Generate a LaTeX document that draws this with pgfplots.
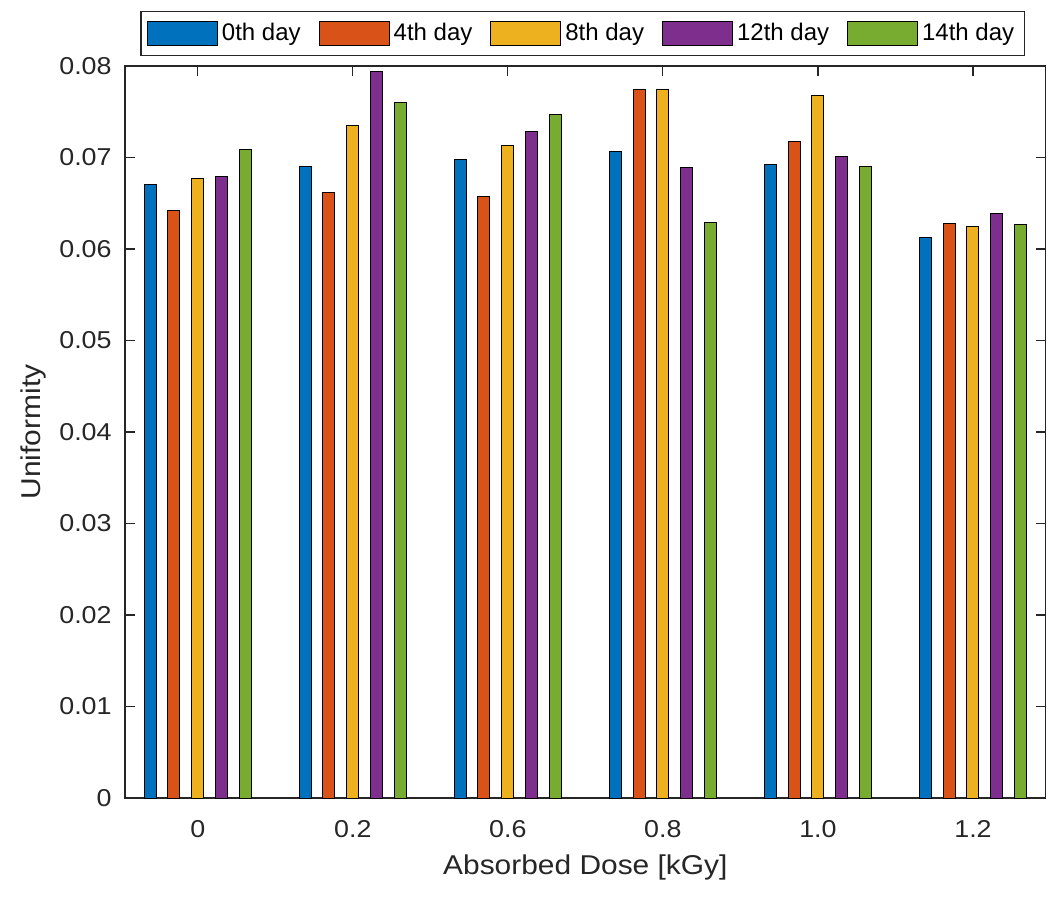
\documentclass[border=0pt]{standalone}
\usepackage{fontspec}
\setmainfont{Liberation Sans}
\newfontfamily\axfont[FakeStretch=1.1]{Liberation Sans}
\usepackage{pgfplots}
\usepackage{pgfplotstable}
\pgfplotsset{compat=1.18}
\definecolor{c1}{HTML}{0072BD}
\definecolor{c2}{HTML}{D95319}
\definecolor{c3}{HTML}{EDB120}
\definecolor{c4}{HTML}{7E2F8E}
\definecolor{c5}{HTML}{77AC30}
\definecolor{axgray}{HTML}{262626}
\pgfplotstableread{
x d0 d4 d8 d12 d14
0 0.0670 0.0642 0.0677 0.0679 0.0709
1 0.0690 0.0662 0.0735 0.0794 0.0760
2 0.0698 0.0657 0.0713 0.0728 0.0747
3 0.0707 0.0774 0.0774 0.0689 0.0629
4 0.0692 0.0717 0.0768 0.0701 0.0690
5 0.0613 0.0628 0.0625 0.0639 0.0627
}\datatable
\begin{document}
\begin{tikzpicture}
\path[use as bounding box] (-62.5bp,-53bp) rectangle (467bp,399bp);
\begin{axis}[
  at={(0,0)}, anchor=south west,
  scale only axis, width=460.35bp, height=366bp,
  ybar, bar width=6bp,
  legend image code/.code={\draw[#1] (0bp,-6.2bp) rectangle (35bp,6.2bp);},
  xmin=-0.469, xmax=5.469, ymin=0, ymax=0.08,
  scaled y ticks=false,
  xtick={0,1,2,3,4,5}, xticklabels={0,0.2,0.6,0.8,1.0,1.2},
  ytick={0,0.01,0.02,0.03,0.04,0.05,0.06,0.07,0.08},
  yticklabels={0,0.01,0.02,0.03,0.04,0.05,0.06,0.07,0.08},
  tick align=inside, major tick length=5bp,
  axis line style={axgray, line width=0.6bp},
  tick style={axgray, line width=0.6bp},
  tick label style={font=\axfont\fontsize{12.2bp}{14bp}\selectfont, text=axgray},
  yticklabel style={anchor=east, inner sep=0pt, xshift=-6.5bp},
  xticklabel style={anchor=north, inner sep=0pt, yshift=-11.1bp},
  label style={font=\axfont\fontsize{13.6bp}{16bp}\selectfont, text=axgray},
  xlabel={Absorbed Dose [kGy]},
  ylabel={Uniformity},
  xlabel style={at={(axis description cs:0.5,-0.0943)}, anchor=center},
  ylabel style={at={(axis description cs:-0.0999,0.5)}, anchor=center},
  legend style={at={(0.497,1.0135)}, anchor=south, draw=axgray, line width=0.6bp,
    font=\fontsize{12bp}{14bp}\selectfont, inner xsep=3bp, inner ysep=3.9bp,
    /tikz/every even column/.append style={column sep=7bp}},
  legend columns=5, legend cell align=left,
]
\addplot[fill=c1, draw=black, line width=0.5bp, bar shift=-23.85bp] table[x=x,y=d0] {\datatable};
\addplot[fill=c2, draw=black, line width=0.5bp, bar shift=-11.92bp] table[x=x,y=d4] {\datatable};
\addplot[fill=c3, draw=black, line width=0.5bp, bar shift=0bp] table[x=x,y=d8] {\datatable};
\addplot[fill=c4, draw=black, line width=0.5bp, bar shift=11.92bp] table[x=x,y=d12] {\datatable};
\addplot[fill=c5, draw=black, line width=0.5bp, bar shift=23.85bp] table[x=x,y=d14] {\datatable};
\legend{0th day,4th day,8th day,12th day,14th day}
\end{axis}
\end{tikzpicture}
\end{document}
